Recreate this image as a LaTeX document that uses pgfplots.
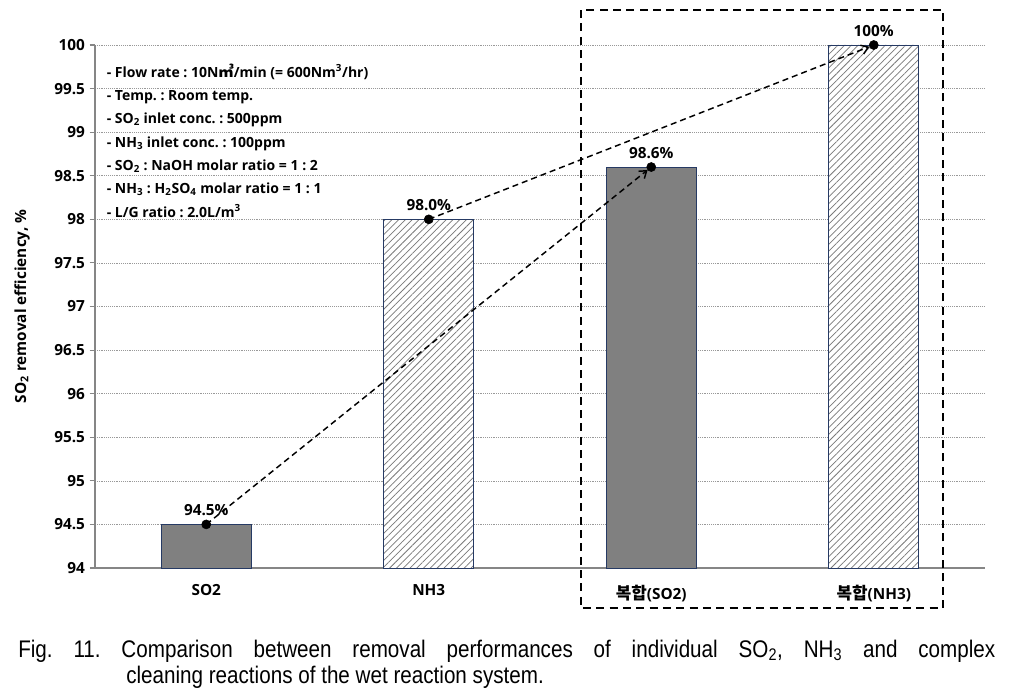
\documentclass[border=0pt]{standalone}
\usepackage{fontspec}
\usepackage{pgfplots}
\pgfplotsset{compat=1.18}
\usetikzlibrary{patterns.meta,arrows.meta}
\setmainfont{Open Sans}
\newfontfamily\kr[Scale=1.1]{Noto Sans CJK KR}
\newfontfamily\capfont[FakeStretch=0.86]{Liberation Sans}
\definecolor{barfill}{RGB}{128,128,128}
\definecolor{barline}{RGB}{38,58,100}
\definecolor{axgray}{RGB}{134,134,134}
\begin{document}
\frenchspacing
\begin{tikzpicture}
\useasboundingbox (0,0) rectangle (759pt,519.75pt);
\begin{axis}[
  at={(71.25pt,93.75pt)}, anchor=south west,
  scale only axis, width=667.5pt, height=392.25pt,
  xmin=-0.5, xmax=3.5, ymin=94, ymax=100,
  axis x line*=bottom, axis y line*=left,
  axis line style={axgray, line width=0.8pt},
  ytick={94,94.5,...,100},
  yticklabels={94,94.5,95,95.5,96,96.5,97,97.5,98,98.5,99,99.5,100},
  tick align=outside, major tick length=4pt, minor tick length=4pt,
  tick style={axgray, line width=0.8pt},
  xtick={0,1,2,3},
  xticklabels={SO2,NH3,{{\kr\bfseries 복합}(SO2)},{{\kr\bfseries 복합}(NH3)}},
  x tick style={draw=none},
  minor xtick={0.5,1.5,2.5},
  ymajorgrids, grid style={densely dotted, gray!80, line width=0.5pt},
  tick label style={font=\fontsize{11.5pt}{13pt}\selectfont\bfseries},
  xticklabel style={yshift=-5pt},
  ylabel={SO\textsubscript{2} removal efficiency, \%},
  ylabel style={font=\fontsize{11.5pt}{13pt}\selectfont\bfseries,
    at={(axis description cs:-0.082,0.5)}, anchor=center},
  clip mode=individual,
  ybar, bar width=67.5pt, bar shift=0pt,
]
\addplot[fill=barfill, draw=barline, line width=0.6pt]
  coordinates {(0,94.5) (2,98.6)};
\addplot[fill=white, draw=barline, line width=0.6pt,
  postaction={pattern={Lines[angle=45,distance=3.6pt,line width=0.55pt]}, pattern color=gray!95!black}]
  coordinates {(1,98.0) (3,100)};
% dashed trend arrows
\addplot[sharp plot, black, line width=1.1pt, dash pattern=on 4.5pt off 3pt,
  -{Straight Barb[length=5pt,width=7pt]}, shorten >=3.5pt]
  coordinates {(0,94.5) (2,98.6)};
\addplot[sharp plot, black, line width=1.1pt, dash pattern=on 4.5pt off 3pt,
  -{Straight Barb[length=5pt,width=7pt]}, shorten >=3.5pt]
  coordinates {(1,98.0) (3,100)};
% markers with value labels
\addplot[only marks, mark=*, mark size=3.4pt, black,
  point meta=explicit symbolic,
  nodes near coords, every node near coord/.append style={
    font=\fontsize{11.5pt}{13pt}\selectfont\bfseries, anchor=south, yshift=3pt}]
  coordinates {(0,94.5)[94.5\%] (1,98.0)[98.0\%] (2,98.6)[98.6\%] (3,100)[100\%]};
% conditions
\node[anchor=north west, align=left, inner sep=0pt,
  font=\fontsize{10.5pt}{17.5pt}\selectfont\bfseries]
  at (axis cs:-0.448,99.79) {%
  - Flow rate : 10N{\kr ㎥}/min (= 600Nm\textsuperscript{3}/hr)\\
  - Temp. : Room temp.\\
  - SO\textsubscript{2} inlet conc. : 500ppm\\
  - NH\textsubscript{3} inlet conc. : 100ppm\\
  - SO\textsubscript{2} : NaOH molar ratio = 1 : 2\\
  - NH\textsubscript{3} : H\textsubscript{2}SO\textsubscript{4} molar ratio = 1 : 1\\
  - L/G ratio : 2.0L/m\textsuperscript{3}};
% dashed frame round the complex results
\draw[black, line width=2pt, dash pattern=on 6pt off 4pt]
  (axis cs:1.684,100.40) rectangle (axis cs:3.311,93.54);
\end{axis}
% caption
\node[anchor=base west, inner sep=0pt, font=\capfont\fontsize{18pt}{22pt}\selectfont]
  at (13.5pt,27pt) {\hbox to 732.75pt{Fig. 11. Comparison between removal performances of individual SO\textsubscript{2}, NH\textsubscript{3} and complex}};
\node[anchor=base west, inner sep=0pt, font=\capfont\fontsize{18pt}{22pt}\selectfont]
  at (94.5pt,7.5pt) {cleaning reactions of the wet reaction system.};
\end{tikzpicture}
\end{document}
